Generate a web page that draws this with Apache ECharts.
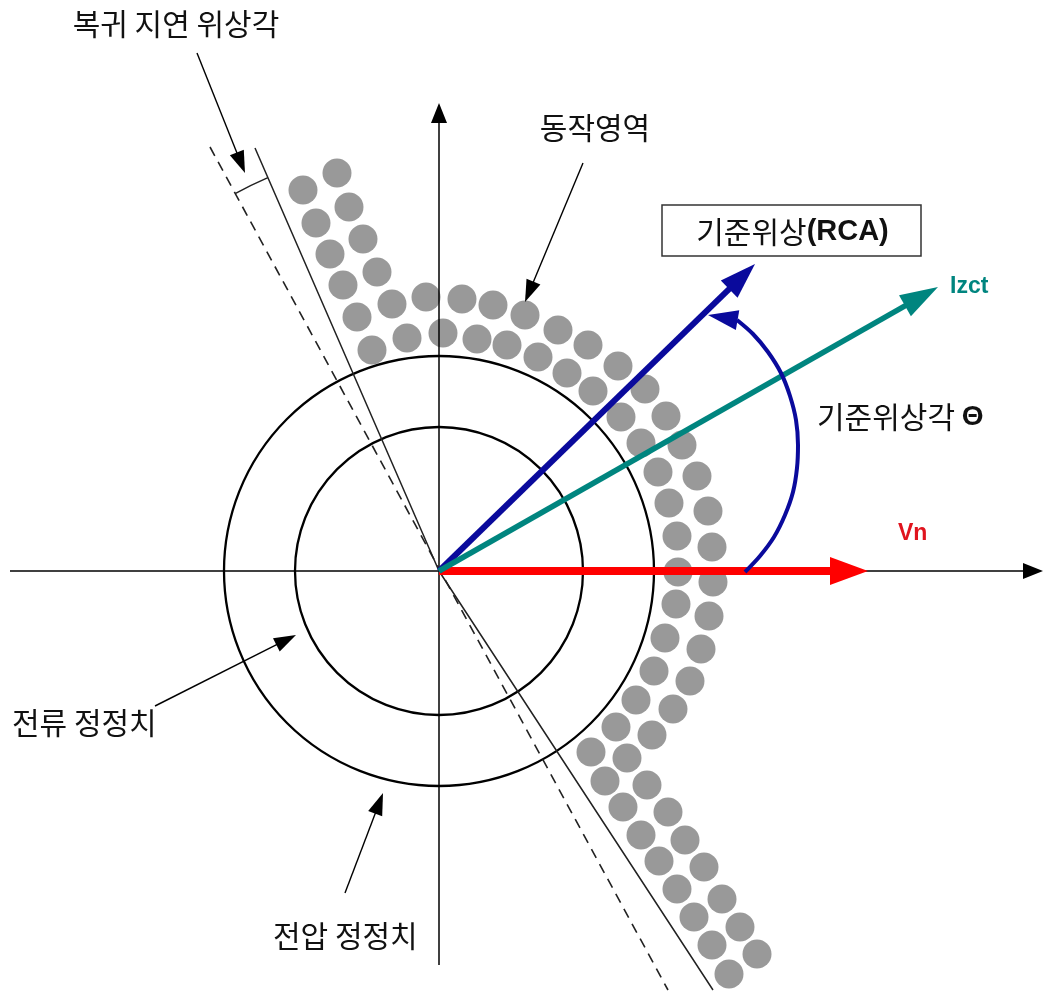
<!DOCTYPE html>
<html><head><meta charset="utf-8">
<script src="https://cdn.jsdelivr.net/npm/echarts@6/dist/echarts.min.js"></script>
<style>html,body{margin:0;padding:0;background:#fff}#c{width:1045px;height:992px}</style>
</head><body><div id="c"></div>
<script>
// Phasor plane: origin at the crossing of the axes, y up.
const xRange = [-439, 606];
const yRange = [-421, 571];

// setting circles: 전류 정정치 (inner), 전압 정정치 (outer)
const settingRadii = [144, 215];

// 동작영역 dots (two rows)
const operateInner = [[-136,381],[-123,348],[-109,317],[-96,286],[-82,254],[-67,221],[-32,233],[4,238],[38,232],[68,226],[99,214],[128,198],[154,180],[182,154],[202,128],[219,99],[230,68],[238,35],[239,-1],[237,-33],[226,-67],[215,-100],[197,-129],[177,-156],[152,-181],[166,-210],[184,-236],[202,-264],[220,-290],[238,-318],[255,-346],[273,-374],[290,-403]];
const operateOuter = [[-102,398],[-90,364],[-76,332],[-62,299],[-47,267],[-13,274],[23,272],[54,266],[86,256],[119,241],[149,226],[179,205],[206,182],[227,155],[243,126],[258,95],[269,60],[273,24],[274,-11],[270,-45],[262,-78],[251,-110],[234,-138],[213,-164],[188,-187],[208,-214],[229,-241],[246,-269],[265,-296],[283,-328],[301,-356],[318,-383]];

// axes (start, tip)
const axisLines = [[-429,0,604,0],[0,-394,0,468]];

// boundary lines
const boundarySolid = [[-184,423],[0,0],[274,-419]];
const boundaryDashed = [[-229,424],[229,-419]];
const delayArcRadius = 429;

// phasors
const phasorNames = ['RCA','Izct','Vn'];
const phasorTips = [[316,307],[499,284],[429,0]];

// 기준위상각 arc (from Vn up to RCA)
const rcaAngleArc = [[306,-1],[321,15],[335,34],[346,56],[354,79],[358,103],[359,126],[357,151],[351,175],[342,198],[329,219],[314,237],[298,251]];
const rcaAngleTip = [269,256];

// pointer arrows for annotations
const pointerFrom = [[-242,518],[144,408],[-284,-135],[-94,-322]];
const pointerTo = [[-194,398],[86,269],[-143,-64],[-56,-222]];

// labels
const labelTexts = ['복귀 지연 위상각','동작영역','기준위상각','전류 정정치','전압 정정치'];
const labelPos = [[-263,547],[156,443],[378,154],[-427,-152],[-166,-365]];
const rcaBox = [223,366,482,315];
const rcaBoxText = ['기준위상','(RCA)'];
const phasorLabelPos = [[511,284],[459,37]];

const KR = '"Noto Sans CJK KR", "Noto Sans", sans-serif';
const LAT = '"Liberation Sans", Arial, sans-serif';
const BLUE = '#0a0a9c', TEAL = '#00857f', RED = '#ff0000';

function arrowItem(lw, color, headLen, headHalf) {
  return function (params, api) {
    const a = api.coord([api.value(0), api.value(1)]);
    const b = api.coord([api.value(2), api.value(3)]);
    const dx = b[0] - a[0], dy = b[1] - a[1];
    const len = Math.hypot(dx, dy);
    const ux = dx / len, uy = dy / len;
    const bx = b[0] - ux * headLen, by = b[1] - uy * headLen;
    const nx = -uy, ny = ux;
    const children = [];
    if (len > headLen + 0.5) {
      children.push({type: 'line', shape: {x1: a[0], y1: a[1], x2: bx + ux * 2, y2: by + uy * 2},
        style: {stroke: color, lineWidth: lw}});
    }
    children.push({type: 'polygon', shape: {points: [[b[0], b[1]], [bx + nx * headHalf, by + ny * headHalf], [bx - nx * headHalf, by - ny * headHalf]]},
      style: {fill: color}});
    return {type: 'group', children};
  };
}

const chart = echarts.init(document.getElementById('c'), null, {renderer: 'canvas'});

const aStart = -Math.atan2(boundaryDashed[0][1], boundaryDashed[0][0]);
const aEnd = -Math.atan2(boundarySolid[0][1], boundarySolid[0][0]);

const series = [
  {type: 'scatter', data: operateInner.concat(operateOuter), symbol: 'circle', symbolSize: 29,
   itemStyle: {color: '#808080'}, silent: true, z: 1},
  {type: 'custom', data: settingRadii.map(r => [0, 0, r]), silent: true, z: 2,
   renderItem: function (params, api) {
     const c = api.coord([api.value(0), api.value(1)]);
     const r = api.size([api.value(2), 0])[0];
     return {type: 'circle', shape: {cx: c[0], cy: c[1], r: r}, style: {fill: 'none', stroke: '#000', lineWidth: 2.3}};
   }},
  {type: 'custom', data: axisLines, silent: true, z: 3, renderItem: arrowItem(1.5, '#000', 20, 8)},
  {type: 'line', data: boundarySolid, symbol: 'none', silent: true, z: 3,
   lineStyle: {color: '#222', width: 1.5}},
  {type: 'line', data: boundaryDashed, symbol: 'none', silent: true, z: 3,
   lineStyle: {color: '#222', width: 1.6, type: [10, 7]}},
  {type: 'custom', data: [[0, 0, delayArcRadius]], silent: true, z: 3,
   renderItem: function (params, api) {
     const c = api.coord([api.value(0), api.value(1)]);
     const r = api.size([api.value(2), 0])[0];
     return {type: 'arc', shape: {cx: c[0], cy: c[1], r: r, startAngle: aStart, endAngle: aEnd, clockwise: true},
       style: {fill: 'none', stroke: '#222', lineWidth: 1.5}};
   }},
  {type: 'custom', data: pointerFrom.map((p, i) => [p[0], p[1], pointerTo[i][0], pointerTo[i][1]]), silent: true, z: 4,
   renderItem: arrowItem(1.4, '#000', 22, 7.5)},
  {type: 'custom', data: [[0, 0, phasorTips[0][0], phasorTips[0][1]]], silent: true, z: 6, renderItem: arrowItem(6, BLUE, 36, 12)},
  {type: 'custom', data: [[0, 0, phasorTips[1][0], phasorTips[1][1]]], silent: true, z: 7, renderItem: arrowItem(5.5, TEAL, 38, 12)},
  {type: 'custom', data: [[0, 0, phasorTips[2][0], phasorTips[2][1]]], silent: true, z: 5, renderItem: arrowItem(8, RED, 38, 14)},
  {type: 'line', data: rcaAngleArc, symbol: 'none', smooth: 0.3, silent: true, z: 8,
   lineStyle: {color: BLUE, width: 4}},
  {type: 'custom', data: [[rcaAngleArc[rcaAngleArc.length - 1][0], rcaAngleArc[rcaAngleArc.length - 1][1], rcaAngleTip[0], rcaAngleTip[1]]],
   silent: true, z: 8, renderItem: arrowItem(4, BLUE, 30, 10)},
  // labels
  {type: 'custom', data: labelPos.map((p, i) => [p[0], p[1], i]), silent: true, z: 10,
   renderItem: function (params, api) {
     const i = api.value(2);
     const p = api.coord([api.value(0), api.value(1)]);
     const align = (i <= 1) ? 'center' : 'left';
     let text = labelTexts[i];
     const style = {x: 0, y: 0, align: align, verticalAlign: 'middle', fill: '#111',
       font: '30px ' + KR};
     if (i === 2) {
       style.text = '{k|' + text + '} {t|Θ}';
       style.rich = {k: {fontSize: 30, fontFamily: KR, fill: '#111'}, t: {fontSize: 28, fontWeight: 'bold', fontFamily: LAT, fill: '#111'}};
     } else {
       style.text = text;
     }
     return {type: 'text', x: p[0], y: p[1], style: style};
   }},
  {type: 'custom', data: [rcaBox], silent: true, z: 10,
   renderItem: function (params, api) {
     const a = api.coord([api.value(0), api.value(1)]);
     const b = api.coord([api.value(2), api.value(3)]);
     return {type: 'group', children: [
       {type: 'rect', shape: {x: a[0], y: a[1], width: b[0] - a[0], height: b[1] - a[1]},
        style: {fill: '#fff', stroke: '#333', lineWidth: 1.5}},
       {type: 'text', x: (a[0] + b[0]) / 2 + 1, y: (a[1] + b[1]) / 2 + 1,
        style: {text: '{k|' + rcaBoxText[0] + '}{b|' + rcaBoxText[1] + '}', align: 'center', verticalAlign: 'middle',
          rich: {k: {fontSize: 30, fontFamily: KR, fill: '#111'}, b: {fontSize: 29, fontWeight: 'bold', fontFamily: LAT, fill: '#111'}}}}
     ]};
   }},
  {type: 'custom', data: phasorLabelPos.map((p, i) => [p[0], p[1], i]), silent: true, z: 10,
   renderItem: function (params, api) {
     const i = api.value(2);
     const p = api.coord([api.value(0), api.value(1)]);
     return {type: 'text', x: p[0], y: p[1], style: {text: i === 0 ? phasorNames[1] : phasorNames[2],
       align: 'left', verticalAlign: 'middle', fill: i === 0 ? TEAL : '#e0141e', font: 'bold 23px ' + LAT}};
   }}
];

chart.setOption({
  animation: false,
  backgroundColor: '#fff',
  grid: {left: 0, top: 0, width: 1045, height: 992, containLabel: false},
  xAxis: {type: 'value', min: xRange[0], max: xRange[1], show: false},
  yAxis: {type: 'value', min: yRange[0], max: yRange[1], show: false},
  series: series
});
</script></body></html>
